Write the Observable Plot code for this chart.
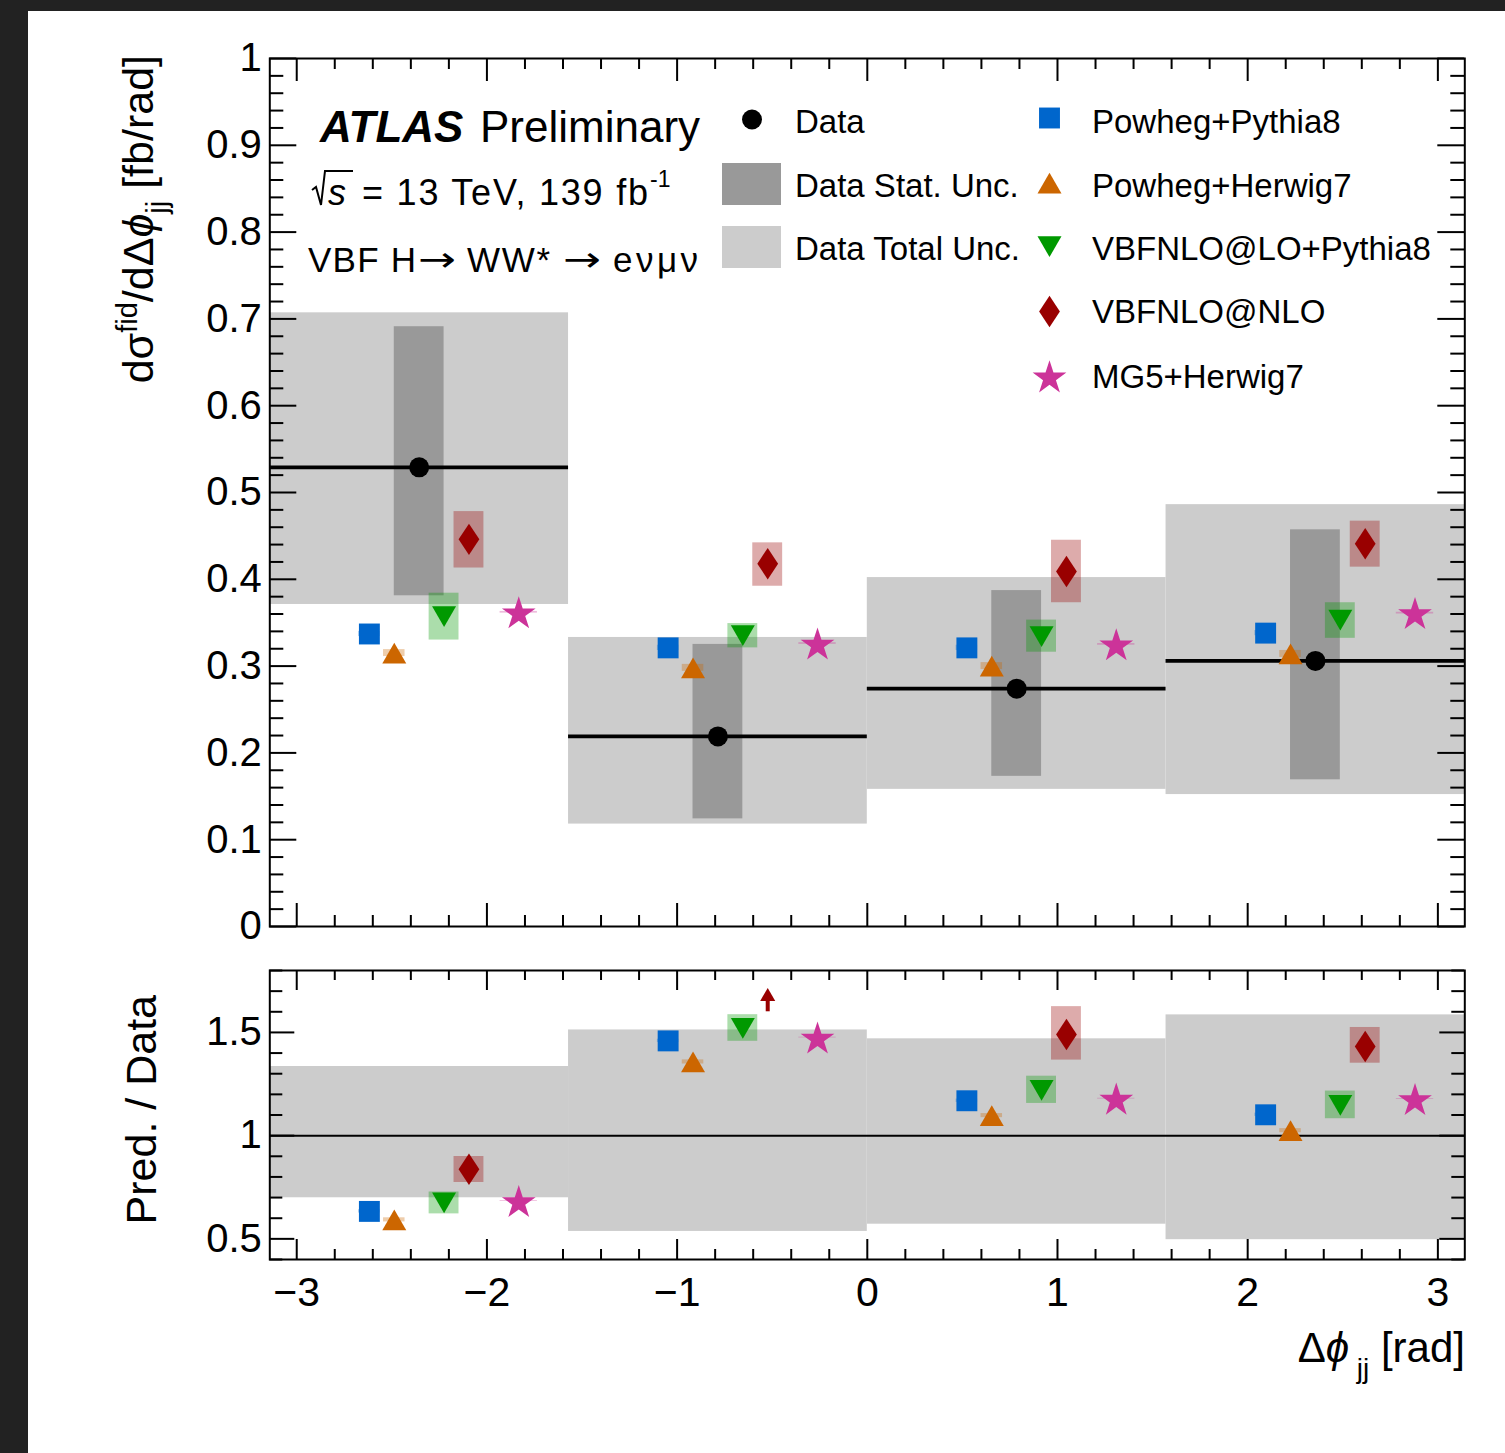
<!DOCTYPE html>
<html>
<head>
<meta charset="utf-8">
<script src="https://cdn.jsdelivr.net/npm/d3@7"></script>
<script src="https://cdn.jsdelivr.net/npm/@observablehq/plot@0.6"></script>
<style>
  html, body { margin: 0; padding: 0; background: #222222; }
  body { width: 1505px; height: 1453px; position: relative; overflow: hidden; }
  #page { position: absolute; left: 28px; top: 11px; width: 1477px; height: 1442px; background: #ffffff; }
  .panel { position: absolute; left: 0; }
  #top { top: 0; }
  #bottom { top: 935px; }
  #overlay { position: absolute; left: 0; top: 0; pointer-events: none; overflow: visible; }
</style>
</head>
<body>
<div id="page">
  <div id="top" class="panel"></div>
  <div id="bottom" class="panel"></div>
  <svg id="overlay" width="1477" height="1442"></svg>
</div>
<script>
// ---------------- DATA ----------------
const binEdges = [-Math.PI, -Math.PI / 2, 0, Math.PI / 2, Math.PI];

// measured differential cross-section [fb/rad]
const dataValue   = [0.529, 0.219, 0.274, 0.306];
const dataStatLo  = [0.381, 0.124, 0.173, 0.169];
const dataStatHi  = [0.691, 0.325, 0.387, 0.457];
const dataTotalLo = [0.371, 0.118, 0.158, 0.152];
const dataTotalHi = [0.707, 0.333, 0.402, 0.486];

const modelNames = ["Powheg+Pythia8", "Powheg+Herwig7", "VBFNLO@LO+Pythia8", "VBFNLO@NLO", "MG5+Herwig7"];

// predictions [fb/rad]
const predPowhegPythia8 = [0.337, 0.321, 0.321, 0.338];
const predPowhegHerwig7 = [0.315, 0.298, 0.300, 0.314];
const predVbfnloLO      = [0.357, 0.335, 0.334, 0.353];
const predVbfnloNLO     = [0.446, 0.418, 0.409, 0.441];
const predMG5Herwig7    = [0.362, 0.326, 0.325, 0.361];

// prediction uncertainty bands
const predPowhegPythia8Lo = [0.334, 0.318, 0.318, 0.335];
const predPowhegPythia8Hi = [0.340, 0.324, 0.324, 0.341];
const predPowhegHerwig7Lo = [0.311, 0.294, 0.296, 0.310];
const predPowhegHerwig7Hi = [0.319, 0.302, 0.304, 0.318];
const predVbfnloLOLo      = [0.330, 0.321, 0.316, 0.332];
const predVbfnloLOHi      = [0.384, 0.349, 0.353, 0.373];
const predVbfnloNLOLo     = [0.413, 0.392, 0.373, 0.414];
const predVbfnloNLOHi     = [0.478, 0.442, 0.445, 0.467];
const predMG5Herwig7Lo    = [0.361, 0.325, 0.324, 0.360];
const predMG5Herwig7Hi    = [0.363, 0.327, 0.326, 0.362];

// ratio panel (Pred. / Data)
const ratioTotalLo = [0.699, 0.536, 0.571, 0.496];
const ratioTotalHi = [1.335, 1.512, 1.469, 1.585];
const ratioPowhegPythia8 = [0.633, 1.459, 1.169, 1.101];
const ratioPowhegHerwig7 = [0.592, 1.357, 1.097, 1.024];
const ratioVbfnloLO      = [0.674, 1.520, 1.219, 1.147];
const ratioVbfnloNLO     = [0.837, 1.910, 1.490, 1.432];
const ratioMG5Herwig7    = [0.683, 1.475, 1.179, 1.177];
const ratioPowhegPythia8Lo = [0.625, 1.451, 1.161, 1.093];
const ratioPowhegPythia8Hi = [0.641, 1.467, 1.177, 1.109];
const ratioPowhegHerwig7Lo = [0.582, 1.347, 1.087, 1.014];
const ratioPowhegHerwig7Hi = [0.602, 1.367, 1.107, 1.034];
const ratioVbfnloLOLo      = [0.621, 1.457, 1.156, 1.082];
const ratioVbfnloLOHi      = [0.727, 1.586, 1.288, 1.216];
const ratioVbfnloNLOLo     = [0.773, 1.795, 1.366, 1.351];
const ratioVbfnloNLOHi     = [0.899, 2.025, 1.625, 1.524];
const ratioMG5Herwig7Lo    = [0.681, 1.473, 1.177, 1.175];
const ratioMG5Herwig7Hi    = [0.685, 1.477, 1.181, 1.179];

// tick values
const xMajorTicks = [-3, -2, -1, 0, 1, 2, 3];
const xMinorTicks = d3.range(-15, 16).filter(k => k % 5 !== 0).map(k => k / 5);
const yMajorTop = d3.range(0, 11).map(k => k / 10);
const yMinorTop = d3.range(0, 51).filter(k => k % 5 !== 0).map(k => k / 50);
const yMajorBottom = [0.5, 1, 1.5];
const yMinorBottom = d3.range(4, 19).filter(k => k % 5 !== 0).map(k => k / 10);

// ---------------- STYLE ----------------
const FONT = "'Liberation Sans', Arial, Helvetica, sans-serif";
const diamondSymbol = {
  draw(ctx, size) {
    const b = Math.sqrt(size / 1.32), a = 0.66 * b;
    ctx.moveTo(0, -b); ctx.lineTo(a, 0); ctx.lineTo(0, b); ctx.lineTo(-a, 0); ctx.closePath();
  }
};
const modelStyle = [
  {color: "#0066cc", symbol: "square",   r: 11.8, rotate: 0,   dy: 0,    offset: -1 / 6,  half: 0.036},
  {color: "#cc6600", symbol: "triangle", r: 8.9,  rotate: 0,   dy: 3.5,  offset: -1 / 12, half: 0.036},
  {color: "#009900", symbol: "triangle", r: 8.9,  rotate: 180, dy: -3.5, offset: 1 / 12,  half: 0.05},
  {color: "#990000", symbol: diamondSymbol, r: 10.2, rotate: 0, dy: 0,  offset: 1 / 6,   half: 0.05},
  {color: "#cc3399", symbol: "star",     r: 10.6, rotate: 0,   dy: 1.6,  offset: 1 / 3,   half: 0.0625}
];

const models = [
  {pred: predPowhegPythia8, lo: predPowhegPythia8Lo, hi: predPowhegPythia8Hi, ratio: ratioPowhegPythia8, rlo: ratioPowhegPythia8Lo, rhi: ratioPowhegPythia8Hi},
  {pred: predPowhegHerwig7, lo: predPowhegHerwig7Lo, hi: predPowhegHerwig7Hi, ratio: ratioPowhegHerwig7, rlo: ratioPowhegHerwig7Lo, rhi: ratioPowhegHerwig7Hi},
  {pred: predVbfnloLO, lo: predVbfnloLOLo, hi: predVbfnloLOHi, ratio: ratioVbfnloLO, rlo: ratioVbfnloLOLo, rhi: ratioVbfnloLOHi},
  {pred: predVbfnloNLO, lo: predVbfnloNLOLo, hi: predVbfnloNLOHi, ratio: ratioVbfnloNLO, rlo: ratioVbfnloNLOLo, rhi: ratioVbfnloNLOHi},
  {pred: predMG5Herwig7, lo: predMG5Herwig7Lo, hi: predMG5Herwig7Hi, ratio: ratioMG5Herwig7, rlo: ratioMG5Herwig7Lo, rhi: ratioMG5Herwig7Hi}
].map((m, k) => ({...m, name: modelNames[k]}));

const bins = dataValue.map((v, i) => ({
  x1: binEdges[i], x2: binEdges[i + 1],
  xc: (binEdges[i] + binEdges[i + 1]) / 2, w: binEdges[i + 1] - binEdges[i],
  v, statLo: dataStatLo[i], statHi: dataStatHi[i],
  totLo: dataTotalLo[i], totHi: dataTotalHi[i],
  rTotLo: ratioTotalLo[i], rTotHi: ratioTotalHi[i]
}));

function rowsFor(k, panel) {
  const m = models[k], st = modelStyle[k];
  return bins.map((b, i) => {
    const x = b.xc + st.offset * b.w, hw = st.half * b.w;
    return panel === "main"
      ? {x, x1: x - hw, x2: x + hw, y: m.pred[i], lo: m.lo[i], hi: m.hi[i]}
      : {x, x1: x - hw, x2: x + hw, y: m.ratio[i], lo: m.rlo[i], hi: m.rhi[i]};
  });
}

const fmt = d => (d < 0 ? "\u2212" + Math.abs(d) : String(+d.toFixed(2)));

const W = 1195;   // inner frame width (px)

function frameTicks(H, yMaj, yMin, yMajLen, yMinLen, xMajLen, xMinLen) {
  const s = {stroke: "black", strokeWidth: 2};
  return [
    Plot.tickY(yMaj, {...s, insetRight: W - yMajLen}),
    Plot.tickY(yMaj, {...s, insetLeft: W - yMajLen}),
    Plot.tickY(yMin, {...s, insetRight: W - yMinLen}),
    Plot.tickY(yMin, {...s, insetLeft: W - yMinLen}),
    Plot.tickX(xMajorTicks, {...s, insetTop: H - xMajLen}),
    Plot.tickX(xMajorTicks, {...s, insetBottom: H - xMajLen}),
    Plot.tickX(xMinorTicks, {...s, insetTop: H - xMinLen}),
    Plot.tickX(xMinorTicks, {...s, insetBottom: H - xMinLen})
  ];
}

const plotStyle = {background: "transparent", fontFamily: FONT, fontSize: "39px", color: "black", overflow: "visible"};

// ---------------- TOP PANEL ----------------
const topH = 868;
const topMarks = [
  Plot.rect(bins, {x1: "x1", x2: "x2", y1: "totLo", y2: "totHi", fill: "#cccccc"}),
  Plot.rect(bins, {x1: d => d.xc - d.w / 12, x2: d => d.xc + d.w / 12, y1: "statLo", y2: "statHi", fill: "#999999"}),
  Plot.ruleY(bins, {y: "v", x1: "x1", x2: "x2", stroke: "black", strokeWidth: 3.8})
];
modelStyle.forEach((st, k) => {
  topMarks.push(Plot.rect(rowsFor(k, "main"), {x1: "x1", x2: "x2", y1: "lo", y2: "hi", fill: st.color, fillOpacity: 0.33}));
});
modelStyle.forEach((st, k) => {
  topMarks.push(Plot.dot(rowsFor(k, "main"), {x: "x", y: "y", symbol: st.symbol, r: st.r, rotate: st.rotate, dy: st.dy, fill: st.color, stroke: "none"}));
});
topMarks.push(
  Plot.dot(bins, {x: "xc", y: "v", r: 10, fill: "black"}),
  ...frameTicks(topH, yMajorTop, yMinorTop, 27, 14, 23, 11),
  Plot.frame({stroke: "black", strokeWidth: 2}),
  Plot.axisY({ticks: yMajorTop, tickSize: 0, tickPadding: 8, fontSize: 40, tickFormat: fmt, label: null})
);

const topPlot = Plot.plot({
  width: 1477, height: 935,
  marginLeft: 241.3, marginRight: 40.7, marginTop: 47, marginBottom: 20,
  x: {domain: [-Math.PI, Math.PI], axis: null},
  y: {domain: [0, 1], axis: null},
  color: {type: "identity"},
  style: plotStyle,
  marks: topMarks
});
document.getElementById("top").appendChild(topPlot);

// ---------------- RATIO PANEL ----------------
const RMIN = 0.4, RMAX = 1.8;
const botH = 289;
const botMarks = [
  Plot.rect(bins, {x1: "x1", x2: "x2", y1: "rTotLo", y2: "rTotHi", fill: "#cccccc"}),
  Plot.ruleY([1], {stroke: "black", strokeWidth: 2})
];
const offScale = [];
modelStyle.forEach((st, k) => {
  const rows = rowsFor(k, "ratio");
  rows.filter(d => d.y > RMAX).forEach(d => offScale.push({...d, color: st.color}));
  botMarks.push(Plot.rect(rows.filter(d => d.y <= RMAX), {x1: "x1", x2: "x2", y1: "lo", y2: "hi", fill: st.color, fillOpacity: 0.33}));
});
modelStyle.forEach((st, k) => {
  const rows = rowsFor(k, "ratio").filter(d => d.y <= RMAX);
  botMarks.push(Plot.dot(rows, {x: "x", y: "y", symbol: st.symbol, r: st.r, rotate: st.rotate, dy: st.dy, fill: st.color, stroke: "none"}));
});
// off-scale indicators
const ARROW_FROM = 1.60, ARROW_HEAD_BASE = 1.655, ARROW_HEAD_MID = 1.684;
botMarks.push(
  Plot.ruleX(offScale, {x: "x", y1: ARROW_FROM, y2: ARROW_HEAD_BASE, stroke: "color", strokeWidth: 4}),
  Plot.dot(offScale, {x: "x", y: ARROW_HEAD_MID, symbol: "triangle", r: 5.6, dy: 2.2, fill: "color", stroke: "none"}),
  ...frameTicks(botH, yMajorBottom, yMinorBottom, 25, 13, 20, 10),
  Plot.frame({stroke: "black", strokeWidth: 2}),
  Plot.axisY({ticks: yMajorBottom, tickSize: 0, tickPadding: 8, fontSize: 40, tickFormat: fmt, label: null}),
  Plot.axisX({ticks: xMajorTicks, tickSize: 0, tickPadding: 17, fontSize: 41, tickFormat: fmt, label: null})
);

const botPlot = Plot.plot({
  width: 1477, height: 373,
  marginLeft: 241.3, marginRight: 40.7, marginTop: 24, marginBottom: 60,
  x: {domain: [-Math.PI, Math.PI], axis: null},
  y: {domain: [RMIN, RMAX], axis: null},
  color: {type: "identity"},
  style: plotStyle,
  marks: botMarks
});
document.getElementById("bottom").appendChild(botPlot);

// ---------------- ANNOTATIONS & LEGEND ----------------
const ov = d3.select("#overlay").append("g")
  .attr("transform", "translate(-28,-11)")
  .style("font-family", FONT)
  .attr("fill", "black");

// ATLAS label
const atlas = ov.append("text").attr("x", 320).attr("y", 142).attr("font-size", 44);
atlas.append("tspan").attr("font-weight", "bold").attr("font-style", "italic").text("ATLAS");
atlas.append("tspan").attr("x", 480).text("Preliminary");

// energy / luminosity:  sqrt(s) = 13 TeV, 139 fb^-1
ov.append("path").attr("d", "M312,190 L316,187 L321,205 L325,171 L353,171")
  .attr("fill", "none").attr("stroke", "black").attr("stroke-width", 2).attr("stroke-linejoin", "miter");
ov.append("text").attr("x", 328).attr("y", 205).attr("font-size", 36).attr("font-style", "italic").text("s");
ov.append("text").attr("x", 362).attr("y", 205).attr("font-size", 36)
  .attr("textLength", 286).attr("lengthAdjust", "spacing").text("= 13 TeV, 139 fb");
ov.append("text").attr("x", 650).attr("y", 187).attr("font-size", 23).text("-1");

// process
ov.append("text").attr("x", 308).attr("y", 272).attr("font-size", 35)
  .attr("textLength", 108).attr("lengthAdjust", "spacing").text("VBF H");
ov.append("text").attr("x", 418).attr("y", 271).attr("font-size", 34)
  .style("font-family", "'DejaVu Sans', sans-serif").attr("textLength", 38).attr("lengthAdjust", "spacingAndGlyphs").text("\u2192");
ov.append("text").attr("x", 467).attr("y", 272).attr("font-size", 35)
  .attr("textLength", 83).attr("lengthAdjust", "spacing").text("WW*");
ov.append("text").attr("x", 563).attr("y", 271).attr("font-size", 34)
  .style("font-family", "'DejaVu Sans', sans-serif").attr("textLength", 38).attr("lengthAdjust", "spacingAndGlyphs").text("\u2192");
ov.append("text").attr("x", 613).attr("y", 272).attr("font-size", 35)
  .attr("textLength", 85).attr("lengthAdjust", "spacing").text("e\u03BD\u03BC\u03BD");

// legend (left column)
ov.append("circle").attr("cx", 752).attr("cy", 119.5).attr("r", 10).attr("fill", "black");
ov.append("rect").attr("x", 722).attr("y", 163).attr("width", 59).attr("height", 42).attr("fill", "#999999");
ov.append("rect").attr("x", 722).attr("y", 226).attr("width", 59).attr("height", 42).attr("fill", "#cccccc");
const legLeft = [["Data", 133], ["Data Stat. Unc.", 197], ["Data Total Unc.", 260]];
legLeft.forEach(([t, y]) => ov.append("text").attr("x", 795).attr("y", y).attr("font-size", 33).text(t));

// legend (right column)
const legY = [118, 183, 246.7, 311.5, 376.5];
const legBase = [133, 197, 260, 323, 388];
const d3Sym = {square: d3.symbolSquare, triangle: d3.symbolTriangle, star: d3.symbolStar};
modelStyle.forEach((st, k) => {
  const type = typeof st.symbol === "string" ? d3Sym[st.symbol] : st.symbol;
  const path = d3.symbol(type, Math.PI * st.r * st.r)();
  ov.append("path").attr("d", path).attr("fill", st.color)
    .attr("transform", `translate(1049.5,${legY[k] + st.dy}) rotate(${st.rotate})`);
  ov.append("text").attr("x", 1092).attr("y", legBase[k]).attr("font-size", 33).text(modelNames[k]);
});

// axis titles
const yt = ov.append("text").attr("transform", "translate(153,55) rotate(-90)")
  .attr("text-anchor", "end").attr("font-size", 43);
yt.append("tspan").text("d\u03C3");
yt.append("tspan").attr("font-size", 29).attr("dy", -16).text("fid");
yt.append("tspan").attr("dy", 16).text("/d\u0394");
yt.append("tspan").attr("font-style", "italic").text("\u03D5");
yt.append("tspan").attr("font-size", 29).attr("dy", 14).text("jj");
yt.append("tspan").attr("dy", -14).text(" [fb/rad]");

ov.append("text").attr("transform", "translate(156,995) rotate(-90)")
  .attr("text-anchor", "end").attr("font-size", 43).text("Pred. / Data");

const xt = ov.append("text").attr("x", 1465).attr("y", 1362).attr("text-anchor", "end").attr("font-size", 42);
xt.append("tspan").text("\u0394");
xt.append("tspan").attr("font-style", "italic").text("\u03D5");
xt.append("tspan").attr("font-size", 28).attr("dy", 16).text(" jj");
xt.append("tspan").attr("dy", -16).text(" [rad]");
</script>
</body>
</html>
